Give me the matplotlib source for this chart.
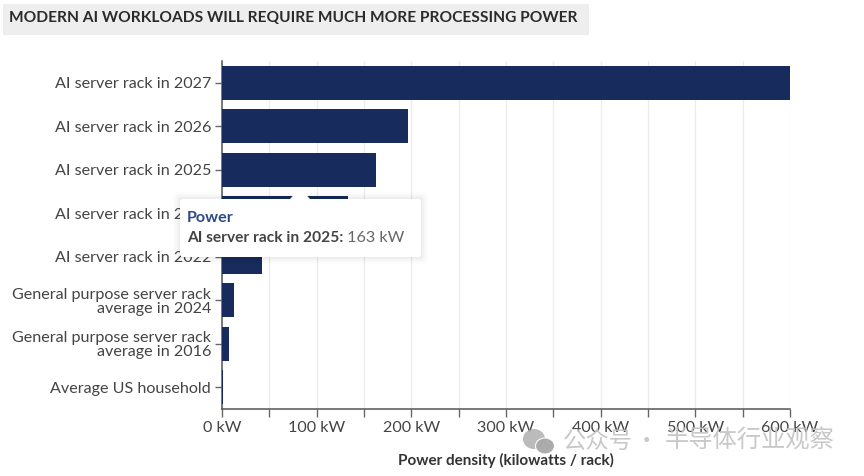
import matplotlib.pyplot as plt
from matplotlib.patches import FancyBboxPatch, Polygon, Rectangle, Ellipse

plt.rcParams['font.family'] = ['Lato', 'Noto Sans CJK SC', 'DejaVu Sans']

W, H = 864, 476

categories = [
    'AI server rack in 2027',
    'AI server rack in 2026',
    'AI server rack in 2025',
    'AI server rack in 2024',
    'AI server rack in 2022',
    'General purpose server rack\naverage in 2024',
    'General purpose server rack\naverage in 2016',
    'Average US household',
]
power_kw = [600, 196, 163, 133, 42, 12.5, 7, 1.5]
x_ticks = [0, 100, 200, 300, 400, 500, 600]
x_minor = [50, 150, 250, 350, 450, 550]
x_labels = ['0 kW', '100 kW', '200 kW', '300 kW', '400 kW', '500 kW', '600 kW']

NAVY = '#172b5c'
TEXT = '#444444'
FS = 11.6


def px_rect(x0, y0, x1, y1):
    # pixel box (y from the top) to figure fractions
    return [x0 / W, 1 - y1 / H, (x1 - x0) / W, (y1 - y0) / H]


fig = plt.figure(figsize=(W / 100, H / 100), dpi=100)
ax = fig.add_axes(px_rect(222, 61, 790, 409))

ax.barh(range(len(categories)), power_kw, height=0.79, color=NAVY, zorder=3)
ax.set_ylim(len(categories) - 0.5, -0.5)
ax.set_xlim(0, 600)
ax.set_yticks(range(len(categories)))
ax.set_yticklabels(categories, fontsize=FS, color=TEXT, linespacing=1.0)
ax.set_xticks(x_ticks)
ax.set_xticks(x_minor, minor=True)
ax.set_xticklabels(x_labels, fontsize=FS, color=TEXT)
ax.tick_params(axis='y', length=5, width=1, color='#666666', pad=3)
ax.tick_params(axis='x', which='both', length=6, width=1, color='#666666', pad=3)
ax.grid(True, axis='x', which='both', color='#ececec', lw=0.9, zorder=0)
for side in ('top', 'right'):
    ax.spines[side].set_visible(False)
for side in ('left', 'bottom'):
    ax.spines[side].set_color('#555555')
    ax.spines[side].set_linewidth(1.1)
ax.set_xlabel('Power density (kilowatts / rack)', fontsize=11, fontweight='bold',
              color='#333333')
ax.xaxis.set_label_coords(0.5, -0.125)

# overlay in full-figure pixel coordinates, y from the top
over = fig.add_axes([0, 0, 1, 1], zorder=5)
over.set_xlim(0, W)
over.set_ylim(H, 0)
over.axis('off')
over.patch.set_alpha(0)

# title strip
over.add_patch(Rectangle((3, 4), 586, 31, color='#eeeeee', lw=0))
over.text(9, 18.5, 'MODERN AI WORKLOADS WILL REQUIRE MUCH MORE PROCESSING POWER',
          fontsize=11.2, fontweight='bold', color='#2b2b2b', va='center')

# tooltip with a soft shadow
for grow, alpha in ((7, 0.012), (5, 0.016), (3, 0.02), (1.5, 0.025)):
    over.add_patch(FancyBboxPatch((180 - grow, 199 - grow), 241 + 2 * grow, 58 + 2 * grow,
                                  boxstyle='round,pad=0,rounding_size=4', fc='black', ec='none',
                                  alpha=alpha))
over.add_patch(FancyBboxPatch((180, 199), 241, 58, boxstyle='round,pad=0,rounding_size=3',
                              fc='white', ec='none'))
over.add_patch(Polygon([(290, 199), (300, 188), (310, 199)], fc='white', ec='none'))
over.text(187, 218, 'Power', fontsize=FS, fontweight='bold', color='#2c4a86', va='center')
t = over.text(187, 238, 'AI server rack in 2025:', fontsize=11.2, fontweight='bold',
              color='#444444', va='center')
over.annotate(' 163 kW', xy=(1, 0.5), xycoords=t, fontsize=FS, color='#666666', va='center')

# watermark
over.add_patch(Ellipse((534, 439), 22, 20, fc='#b4b4b4', ec='none', alpha=0.9))
over.add_patch(Ellipse((545, 446), 19, 16, fc='#a8a8a8', ec='white', lw=0.8, alpha=0.95))
over.text(563, 441, '公众号', fontsize=16.8, color='#c2c2c2', va='center', alpha=0.9,
          family='Noto Sans CJK SC')
over.text(647, 441, '·', fontsize=16.8, color='#c2c2c2', va='center', ha='center', alpha=0.9,
          family='Noto Sans CJK SC')
over.text(665, 441, '半导体行业观察', fontsize=17.5, color='#c2c2c2', va='center', alpha=0.9,
          family='Noto Sans CJK SC')

fig.savefig('out.png', dpi=100)
